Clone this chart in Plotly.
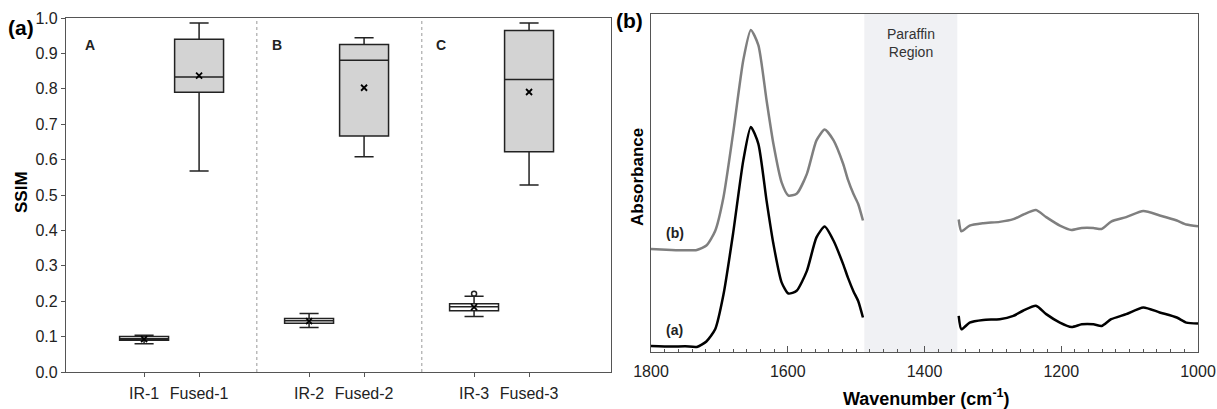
import plotly.graph_objects as go

# ---------------- Data: panel (a) SSIM box plots ----------------
categories = ["IR-1", "Fused-1", "IR-2", "Fused-2", "IR-3", "Fused-3"]
cat_pos = [0, 1, 3, 4, 6, 7]
q1 = [0.090, 0.790, 0.138, 0.667, 0.173, 0.622]
median = [0.094, 0.833, 0.145, 0.881, 0.184, 0.826]
q3 = [0.100, 0.940, 0.151, 0.925, 0.193, 0.965]
lower = [0.080, 0.568, 0.126, 0.608, 0.157, 0.528]
upper = [0.104, 0.986, 0.165, 0.944, 0.214, 0.986]
means = [0.093, 0.837, 0.144, 0.803, 0.183, 0.791]
box_fill = ["white", "#d3d3d3", "white", "#d3d3d3", "white", "#d3d3d3"]
outlier_x = [6]
outlier_y = [0.221]
group_labels = ["A", "B", "C"]
group_label_x = [-1.11, 2.29, 5.27]
separators = [2.05, 5.05]

# ---------------- Data: panel (b) FTIR spectra ----------------
wn_left = [1800, 1770, 1750, 1733, 1719, 1706, 1694, 1680, 1665, 1654, 1643, 1631,
           1621, 1609, 1599, 1587, 1572, 1558, 1546, 1533, 1519, 1512, 1504, 1497, 1490]
a_left = [0.018, 0.016, 0.017, 0.015, 0.031, 0.068, 0.170, 0.350, 0.567, 0.666, 0.616, 0.448,
          0.320, 0.206, 0.173, 0.181, 0.240, 0.339, 0.371, 0.329, 0.260, 0.220, 0.180, 0.151, 0.102]
b_left = [0.305, 0.302, 0.301, 0.302, 0.315, 0.359, 0.458, 0.646, 0.864, 0.953, 0.908, 0.745,
          0.616, 0.502, 0.463, 0.468, 0.527, 0.626, 0.658, 0.626, 0.557, 0.510, 0.468, 0.438, 0.389]
wn_right = [1350, 1346, 1334, 1314, 1290, 1270, 1256, 1237, 1222, 1202, 1185, 1170, 1153,
            1141, 1127, 1105, 1080, 1056, 1031, 1017, 1000]
a_right = [0.107, 0.067, 0.087, 0.095, 0.097, 0.107, 0.122, 0.137, 0.112, 0.087, 0.074, 0.082,
           0.082, 0.077, 0.097, 0.112, 0.132, 0.117, 0.102, 0.087, 0.084]
b_right = [0.392, 0.357, 0.374, 0.381, 0.385, 0.393, 0.406, 0.420, 0.399, 0.374, 0.361, 0.367,
           0.367, 0.364, 0.386, 0.399, 0.417, 0.404, 0.389, 0.377, 0.372]
paraffin_range = [1488, 1352]
x_ticks_b = [1800, 1600, 1400, 1200, 1000]

FONT = "Arial, Liberation Sans, sans-serif"
AX = "#555555"

fig = go.Figure()

# ---- boxes ----
for i in range(len(categories)):
    fig.add_trace(go.Box(
        x=[cat_pos[i]], q1=[q1[i]], median=[median[i]], q3=[q3[i]],
        lowerfence=[lower[i]], upperfence=[upper[i]],
        width=0.89, whiskerwidth=0.39, fillcolor=box_fill[i],
        line=dict(color="#222222", width=1.5), boxpoints=False,
        showlegend=False, xaxis="x", yaxis="y"))

fig.add_trace(go.Scatter(x=cat_pos, y=means, mode="markers",
                         marker=dict(symbol="x-thin", size=6, line=dict(color="black", width=1.8)),
                         showlegend=False, xaxis="x", yaxis="y"))
fig.add_trace(go.Scatter(x=outlier_x, y=outlier_y, mode="markers",
                         marker=dict(symbol="circle-open", size=5, color="#222222", line=dict(width=1.5)),
                         showlegend=False, xaxis="x", yaxis="y"))

for s in separators:
    fig.add_shape(type="line", x0=s, x1=s, y0=0, y1=1, xref="x", yref="y",
                  line=dict(color="#999999", width=1, dash="dot"))

for lab, gx in zip(group_labels, group_label_x):
    fig.add_annotation(x=gx, y=0.925, xref="x", yref="y", text="<b>%s</b>" % lab,
                       showarrow=False, xanchor="left", yanchor="middle",
                       font=dict(family=FONT, size=14, color="#222"))

# ---- spectra ----
wn_all = wn_left + [None] + wn_right
fig.add_trace(go.Scatter(x=wn_all, y=b_left + [None] + b_right, mode="lines",
                         line=dict(color="#7f7f7f", width=2.5, shape="spline", smoothing=0.6),
                         connectgaps=False, showlegend=False, xaxis="x2", yaxis="y2"))
fig.add_trace(go.Scatter(x=wn_all, y=a_left + [None] + a_right, mode="lines",
                         line=dict(color="black", width=2.5, shape="spline", smoothing=0.6),
                         connectgaps=False, showlegend=False, xaxis="x2", yaxis="y2"))

fig.add_shape(type="rect", x0=paraffin_range[0], x1=paraffin_range[1], y0=0, y1=1,
              xref="x2", yref="y2 domain", fillcolor="#f0f1f4", line=dict(width=0), layer="below")
fig.add_annotation(x=sum(paraffin_range) / 2, y=0.97, xref="x2", yref="y2 domain",
                   text="Paraffin<br>Region", showarrow=False, yanchor="top", xanchor="center",
                   font=dict(family=FONT, size=14, color="#333"))
fig.add_annotation(x=1765, y=b_left[1] + 0.05, xref="x2", yref="y2", text="<b>(b)</b>",
                   showarrow=False, xanchor="center", yanchor="middle",
                   font=dict(family=FONT, size=14, color="#222"))
fig.add_annotation(x=1765, y=a_left[1] + 0.05, xref="x2", yref="y2", text="<b>(a)</b>",
                   showarrow=False, xanchor="center", yanchor="middle",
                   font=dict(family=FONT, size=14, color="#222"))

# ---- panel titles / axis titles ----
def paper_text(px, py, text, size, angle=0):
    fig.add_annotation(x=px / 1217, y=1 - py / 409, xref="paper", yref="paper", text=text,
                       textangle=angle, showarrow=False, xanchor="center", yanchor="middle",
                       font=dict(family=FONT, size=size, color="black"))

paper_text(21, 28, "<b>(a)</b>", 21)
paper_text(629, 21, "<b>(b)</b>", 21)
paper_text(22, 192, "<b>SSIM</b>", 17, -90)
paper_text(637, 177, "<b>Absorbance</b>", 17, -90)
paper_text(926, 397, "<b>Wavenumber (cm<sup>-1</sup>)</b>", 18)

tickfont = dict(family=FONT, size=16, color="#222")
fig.update_layout(
    width=1217, height=409, margin=dict(l=0, r=0, t=0, b=0, autoexpand=False),
    paper_bgcolor="white", plot_bgcolor="white",
    xaxis=dict(domain=[66 / 1217, 611 / 1217], range=[-1.42, 8.49], tickvals=cat_pos,
               ticktext=categories, ticks="outside", ticklen=4, tickcolor=AX,
               ticklabelstandoff=3,
               showline=True, linecolor=AX, linewidth=1.2, mirror=True, showgrid=False,
               zeroline=False, tickfont=tickfont, anchor="y", automargin=False),
    yaxis=dict(domain=[1 - 372 / 409, 1 - 18 / 409], range=[0, 1], dtick=0.1, tickformat=".1f",
               ticks="outside", ticklen=4, tickcolor=AX, showline=True, linecolor=AX,
               linewidth=1.2, mirror=True, showgrid=False, zeroline=False, tickfont=tickfont,
               anchor="x", automargin=False),
    xaxis2=dict(domain=[651 / 1217, 1198 / 1217], range=[1800, 1000], tickvals=x_ticks_b,
                ticks="inside", ticklen=6, tickcolor=AX, ticklabelstandoff=5,
                showline=True, linecolor=AX,
                linewidth=1.2, mirror=True, showgrid=False, zeroline=False, tickfont=tickfont,
                minor=dict(ticks="inside", dtick=20, ticklen=3, tickcolor=AX, showgrid=False),
                anchor="y2", automargin=False),
    yaxis2=dict(domain=[1 - 352 / 409, 1 - 14 / 409], range=[0, 1], showticklabels=False,
                ticks="", showline=True, linecolor=AX, linewidth=1.2, mirror=True,
                showgrid=False, zeroline=False, anchor="x2", automargin=False),
)

fig.write_html("out.html", config={"displayModeBar": False},
               post_script="document.body.style.margin='0';document.body.style.overflow='hidden';")
